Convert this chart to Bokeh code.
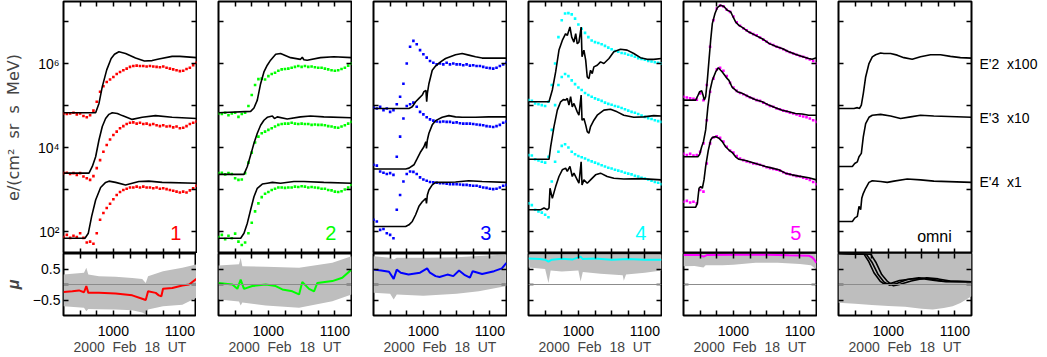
import numpy as np
from bokeh.plotting import figure
from bokeh.layouts import row, column
from bokeh.models import Range1d, FixedTicker, LinearAxis, LogAxis, Label, Span
from bokeh.embed import file_html
from bokeh.resources import INLINE

FONT = "Liberation Sans"
NB = "\u00a0"

# ---------------- ticks / labels ----------------
X_MAJOR = [60, 120]                      # minutes after 09:00 UT
X_MINOR = [30, 45, 75, 90, 105]
X_LABELS = {60: "1000", 120: "1100"}
Y_MAJOR = [1e2, 1e4, 1e6]
Y_MINOR = [1e3, 1e5, 1e7]
Y_LABELS = {100: "10²", 10000: "10⁴", 1000000: "10⁶"}
MU_MAJOR = [-0.5, 0.5]
MU_MINOR = [0.0]
MU_LABELS = {-0.5: "−0.5", 0.5: "0.5"}
CH_TICKS = [1500, 50000, 1000000]
CH_LABELS = {1500: "E'4" + NB * 2 + "x1", 50000: "E'3" + NB * 2 + "x10", 1000000: "E'2" + NB * 2 + "x100"}
X_TITLE = NB.join(["2000", "", "Feb", "", "18", "", "UT"])
Y_TITLE = NB.join(["e/(cm²", "", "sr", "", "s", "", "MeV)"])
TAGS = ["1", "2", "3", "4", "5", "omni"]
COLORS = ["#ff0000", "#00ff00", "#0000ff", "#00ffff", "#ff00ff", "#000000"]

# ---------------- measured intensities (log10 e/(cm2 sr s MeV)) ----------------
T_DATA = [15, 18, 21, 24, 27, 30, 33, 36, 39, 42, 45, 48, 51, 54, 57, 60, 63, 66, 69, 72, 75,
          78, 81, 84, 87, 90, 93, 96, 99, 102, 105, 108, 111, 114, 117, 120, 123, 126, 129, 132, 135]

P1_E2 = [4.81, 4.80, 4.81, 4.83, 4.79, 4.81, 4.75, 4.72, 4.77, 4.88, 5.09, 5.33, 5.46, 5.56, 5.62, 5.68, 5.75, 5.80, 5.84, 5.88,
         5.92, 5.94, 5.95, 5.94, 5.94, 5.93, 5.94, 5.93, 5.92, 5.91, 5.93, 5.90, 5.88, 5.86, 5.84, 5.82, 5.83, 5.87, 5.90, 5.96, 6.02]
P1_E3 = [3.39, 3.40, 3.37, 3.39, 3.35, 3.39, 3.31, 3.27, 3.23, 3.32, 3.51, 3.70, 3.90, 4.06, 4.19, 4.30, 4.38, 4.46, 4.51, 4.56,
         4.59, 4.60, 4.57, 4.59, 4.56, 4.57, 4.54, 4.56, 4.53, 4.51, 4.53, 4.50, 4.51, 4.48, 4.50, 4.46, 4.47, 4.51, 4.56, 4.59, 4.62]
P1_E4 = [1.87, 1.92, 1.85, 1.90, 1.87, 1.96, 1.85, 1.74, 1.76, 1.71, 1.96, 2.28, 2.44, 2.56, 2.66, 2.77, 2.87, 2.94, 2.99, 3.02,
         3.05, 3.05, 3.07, 3.05, 3.07, 3.05, 3.05, 3.03, 3.05, 3.02, 3.03, 3.01, 2.99, 2.97, 2.95, 2.93, 2.95, 2.93, 2.98, 3.03, 3.09]

P2_E2 = [4.81, 4.80, 4.83, 4.77, 4.81, 4.83, 4.73, 4.80, 4.83, 4.99, 5.25, 5.49, 5.63, 5.64, 5.62, 5.70, 5.75, 5.78, 5.83, 5.86,
         5.87, 5.88, 5.90, 5.92, 5.94, 5.92, 5.94, 5.92, 5.93, 5.91, 5.90, 5.90, 5.88, 5.86, 5.84, 5.83, 5.84, 5.87, 5.90, 5.95, 6.00]
P2_E3 = [3.39, 3.40, 3.36, 3.39, 3.37, 3.27, 3.23, 3.24, 3.39, 3.64, 3.88, 4.12, 4.26, 4.34, 4.38, 4.42, 4.46, 4.50, 4.54, 4.56,
         4.57, 4.57, 4.59, 4.57, 4.56, 4.57, 4.56, 4.56, 4.54, 4.55, 4.54, 4.54, 4.53, 4.51, 4.50, 4.48, 4.47, 4.50, 4.53, 4.57, 4.61]
P2_E4 = [1.87, 1.92, 1.82, 1.90, 1.84, 1.95, 1.76, 1.68, 1.74, 1.96, 2.21, 2.48, 2.67, 2.82, 2.90, 2.94, 2.99, 3.02, 3.05, 3.05,
         3.04, 3.05, 3.05, 3.07, 3.06, 3.08, 3.07, 3.05, 3.06, 3.05, 3.04, 3.02, 3.02, 2.99, 2.98, 2.95, 2.94, 2.96, 3.00, 3.05, 3.11]

P3_E2 = [4.95, 4.93, 4.97, 4.89, 4.93, 4.85, 4.89, 5.03, 5.21, 5.52, 6.00, 6.40, 6.54, 6.46, 6.32, 6.22, 6.14, 6.06, 6.02, 5.98,
         6.00, 5.98, 6.02, 5.98, 6.00, 5.98, 5.98, 5.96, 5.98, 5.95, 5.96, 5.94, 5.94, 5.92, 5.90, 5.89, 5.88, 5.90, 5.94, 5.98, 6.02]
P3_E3 = [3.59, 3.57, 3.43, 3.40, 3.37, 3.39, 3.35, 3.78, 4.26, 4.69, 4.99, 5.03, 5.07, 4.97, 4.85, 4.79, 4.72, 4.67, 4.64, 4.62,
         4.61, 4.62, 4.61, 4.61, 4.59, 4.60, 4.58, 4.57, 4.57, 4.57, 4.56, 4.55, 4.54, 4.53, 4.51, 4.50, 4.49, 4.51, 4.54, 4.59, 4.62]
P3_E4 = [2.28, 2.24, 2.04, 2.06, 1.96, 1.92, 1.84, 2.52, 2.87, 3.19, 3.37, 3.43, 3.42, 3.37, 3.29, 3.24, 3.21, 3.18, 3.17, 3.16,
         3.15, 3.15, 3.14, 3.13, 3.13, 3.13, 3.12, 3.11, 3.11, 3.10, 3.09, 3.09, 3.07, 3.05, 3.04, 3.02, 3.01, 3.02, 3.05, 3.09, 3.11]

P4_E2 = [5.13, 5.11, 5.05, 5.03, 5.01, 4.99, 5.09, 5.49, 6.00, 6.63, 7.03, 7.19, 7.20, 7.17, 7.07, 6.93, 6.83, 6.73, 6.63, 6.55,
         6.51, 6.49, 6.46, 6.42, 6.38, 6.34, 6.30, 6.28, 6.25, 6.24, 6.21, 6.19, 6.16, 6.13, 6.11, 6.09, 6.06, 6.05, 6.03, 6.02, 6.00]
P4_E3 = [3.82, 3.81, 3.72, 3.69, 3.66, 3.64, 3.78, 4.42, 5.01, 5.49, 5.68, 5.75, 5.70, 5.60, 5.51, 5.43, 5.37, 5.30, 5.25, 5.21,
         5.17, 5.14, 5.11, 5.07, 5.04, 5.02, 4.99, 4.97, 4.94, 4.91, 4.88, 4.85, 4.83, 4.80, 4.76, 4.73, 4.70, 4.68, 4.65, 4.63, 4.61]
P4_E4 = [2.67, 2.63, 2.52, 2.48, 2.45, 2.40, 2.34, 3.19, 3.66, 3.90, 4.04, 4.08, 4.00, 3.90, 3.84, 3.80, 3.77, 3.74, 3.70, 3.67,
         3.64, 3.61, 3.58, 3.55, 3.52, 3.50, 3.47, 3.45, 3.43, 3.40, 3.38, 3.36, 3.33, 3.31, 3.28, 3.26, 3.24, 3.21, 3.18, 3.16, 3.13]

P5_E2 = [5.21, 5.19, 5.17, 5.16, 5.14, 5.29, 5.13, 5.49, 6.40, 7.03, 7.31, 7.38, 7.36, 7.28, 7.23, 7.12, 6.98, 6.90, 6.84, 6.79,
         6.74, 6.70, 6.67, 6.62, 6.57, 6.52, 6.47, 6.44, 6.40, 6.37, 6.34, 6.30, 6.27, 6.24, 6.21, 6.18, 6.16, 6.13, 6.10, 6.06, 6.00]
P5_E3 = [3.85, 3.82, 3.85, 3.81, 3.82, 3.90, 4.10, 4.65, 5.33, 5.64, 5.86, 5.90, 5.83, 5.70, 5.54, 5.43, 5.35, 5.30, 5.27, 5.23,
         5.19, 5.16, 5.13, 5.11, 5.07, 5.03, 4.99, 4.97, 4.93, 4.91, 4.88, 4.86, 4.83, 4.81, 4.79, 4.76, 4.74, 4.72, 4.69, 4.65, 4.61]
P5_E4 = [2.71, 2.73, 2.69, 2.71, 2.67, 2.99, 2.95, 3.62, 4.10, 4.24, 4.27, 4.23, 4.14, 4.02, 3.93, 3.88, 3.80, 3.74, 3.70, 3.67,
         3.65, 3.62, 3.61, 3.59, 3.56, 3.53, 3.51, 3.49, 3.47, 3.45, 3.41, 3.38, 3.36, 3.34, 3.32, 3.31, 3.28, 3.26, 3.23, 3.18, 3.13]

# ---------------- model curves (time, log10 intensity) ----------------
M1_E2_T = [15, 44, 47, 50, 54, 58, 61, 65, 71, 80, 88, 95, 101, 113, 120, 135]
M1_E2 = [4.83, 4.83, 5.05, 5.45, 5.85, 6.12, 6.22, 6.28, 6.24, 6.13, 6.06, 6.07, 6.11, 6.17, 6.17, 6.14]
M1_E3_T = [15, 38, 41, 44, 47, 50, 53, 56, 59, 63.6, 68, 77, 86, 98, 113, 135]
M1_E3 = [3.39, 3.39, 3.55, 3.78, 4.18, 4.50, 4.69, 4.79, 4.83, 4.81, 4.76, 4.67, 4.72, 4.76, 4.72, 4.69]
M1_E4_T = [15, 34.4, 37.4, 40.4, 44, 48.5, 53, 56, 62, 71, 83, 92, 104, 135]
M1_E4 = [1.84, 1.84, 1.96, 2.36, 2.75, 3.05, 3.17, 3.20, 3.17, 3.11, 3.19, 3.20, 3.17, 3.15]

M2_E2_T = [15, 44, 47, 50, 53, 56, 59, 62, 66.6, 71, 80, 89, 90.6, 92, 95, 107, 119, 135]
M2_E2 = [4.83, 4.86, 4.94, 5.13, 5.52, 5.80, 5.96, 6.08, 6.22, 6.24, 6.14, 6.10, 6.15, 6.09, 6.08, 6.14, 6.16, 6.14]
M2_E3_T = [15, 38, 41, 44, 47, 50, 53, 56, 59, 63.6, 65.5, 68, 77, 89, 98, 110, 135]
M2_E3 = [3.36, 3.36, 3.55, 3.82, 4.10, 4.34, 4.53, 4.65, 4.72, 4.75, 4.69, 4.73, 4.68, 4.73, 4.75, 4.73, 4.71]
M2_E4_T = [15, 35, 38, 41, 44, 47, 50, 54.5, 59, 63.6, 71, 83, 92, 110, 135]
M2_E4 = [1.84, 1.84, 1.96, 2.20, 2.52, 2.83, 3.03, 3.13, 3.15, 3.17, 3.15, 3.19, 3.19, 3.17, 3.15]

M3_E2_T = [15, 47, 50, 53, 56, 59, 60.5, 62.3, 63, 63.6, 65, 68, 71, 75.5, 80, 89, 95, 101, 107, 113, 135]
M3_E2 = [4.93, 4.93, 4.97, 5.09, 5.17, 5.25, 5.33, 5.36, 5.09, 5.29, 5.52, 5.84, 5.94, 6.04, 6.12, 6.21, 6.24, 6.20, 6.16, 6.13, 6.13]
M3_E3_T = [15, 44, 47, 51.5, 54.5, 57.6, 60.5, 62.2, 62.8, 63.6, 65, 68, 71, 77, 83, 89, 95, 107, 119, 135]
M3_E3 = [3.49, 3.49, 3.51, 3.59, 3.74, 3.90, 4.02, 4.14, 3.98, 4.18, 4.34, 4.54, 4.64, 4.72, 4.76, 4.73, 4.72, 4.72, 4.73, 4.73]
M3_E4_T = [15, 44, 47, 50, 53, 56, 59, 62.2, 62.8, 63.6, 65, 68, 71, 77, 89, 101, 113, 135]
M3_E4 = [2.12, 2.12, 2.16, 2.24, 2.40, 2.60, 2.71, 2.79, 2.67, 2.87, 2.99, 3.11, 3.17, 3.17, 3.18, 3.21, 3.19, 3.17]

M4_E2_T = [15, 33.5, 36.5, 39.5, 42.5, 45.5, 48.5, 50, 52.4, 54, 56, 57.6, 59, 60.5, 62.5, 63.3, 65, 66.6, 68, 69.5,
           71, 72.5, 74, 77, 80, 83, 87.6, 92, 98, 104, 110, 116, 122, 128, 135]
M4_E2 = [5.09, 5.09, 5.37, 5.80, 6.32, 6.55, 6.71, 6.67, 6.87, 6.63, 6.51, 6.71, 6.47, 6.51, 6.87, 6.16, 6.32, 6.08, 5.68, 5.64,
         5.84, 5.76, 5.92, 5.96, 6.04, 6.00, 6.12, 6.28, 6.34, 6.32, 6.24, 6.14, 6.10, 6.10, 6.12]
M4_E3_T = [15, 33.5, 35, 38, 41, 44, 46.4, 48.5, 50, 51.5, 53, 54.5, 56, 59, 60.5, 62.5, 63.3, 65, 66.6, 68,
           69.5, 71, 74, 77, 83, 89, 95, 101, 110, 119, 128, 135]
M4_E3 = [3.72, 3.72, 4.02, 4.50, 4.89, 5.09, 5.14, 5.13, 5.17, 5.01, 5.21, 4.97, 5.05, 4.85, 4.77, 5.25, 4.65, 4.69, 4.54, 4.38,
         4.34, 4.50, 4.65, 4.77, 4.89, 4.91, 4.85, 4.77, 4.72, 4.73, 4.76, 4.75]
M4_E4_T = [15, 26, 29, 32, 33.5, 34.4, 36.5, 39.5, 42.5, 45.5, 48.5, 50, 52.4, 54.5, 56, 59, 60.5, 62.5, 63.3, 65,
           68, 71, 75.5, 80, 86, 92, 101, 116, 135]
M4_E4 = [2.52, 2.52, 2.56, 2.52, 2.56, 3.03, 2.79, 3.07, 3.31, 3.47, 3.51, 3.43, 3.55, 3.31, 3.39, 3.23, 3.15, 3.66, 3.11, 3.23,
         3.15, 3.23, 3.35, 3.39, 3.31, 3.27, 3.25, 3.26, 3.23]

M5_E2_T = [15, 26, 27.5, 29.6, 31.4, 32.6, 33.8, 35, 36.5, 38, 39.5, 41, 43.4, 45.5, 48.5, 51.5, 54.5, 57.6, 59, 62,
           65, 68, 74, 80, 86, 90.6, 92, 98, 104, 110, 116, 122, 128, 131, 135]
M5_E2 = [5.13, 5.13, 5.21, 5.33, 5.35, 5.25, 5.13, 5.21, 5.60, 6.08, 6.55, 6.95, 7.19, 7.33, 7.39, 7.36, 7.27, 7.23, 7.15, 6.99,
         6.91, 6.86, 6.75, 6.67, 6.59, 6.51, 6.48, 6.41, 6.36, 6.28, 6.22, 6.17, 6.12, 6.10, 6.14]
M5_E3_T = [15, 28, 29.6, 31.4, 33, 35, 37, 39, 41, 44, 46.4, 50, 54.5, 56, 59, 63.6, 68, 74, 80, 86,
           92, 98, 104, 110, 116, 122, 128, 135]
M5_E3 = [3.78, 3.78, 3.84, 4.02, 4.14, 4.42, 4.97, 5.37, 5.60, 5.80, 5.90, 5.80, 5.64, 5.60, 5.43, 5.33, 5.29, 5.21, 5.14, 5.09,
         5.01, 4.95, 4.89, 4.85, 4.81, 4.80, 4.77, 4.77]
M5_E4_T = [15, 26, 27.5, 29, 30.5, 32, 33.5, 35, 37.4, 39.5, 41, 44, 47, 50, 53, 56, 59, 62, 65, 71,
           80, 89, 95, 101, 107, 113, 119, 128, 135]
M5_E4 = [2.58, 2.58, 2.67, 3.03, 3.07, 3.03, 3.23, 3.55, 3.94, 4.18, 4.24, 4.26, 4.22, 4.14, 4.02, 3.94, 3.88, 3.78, 3.72, 3.69,
         3.62, 3.55, 3.51, 3.47, 3.39, 3.35, 3.32, 3.28, 3.23]

M6_E2_T = [15, 29, 32, 34, 35.6, 37.4, 39.5, 42.5, 45.5, 48.5, 53, 56, 62, 68, 74, 81.5, 89, 98, 107, 116, 125, 135]
M6_E2 = [4.93, 4.93, 4.95, 4.93, 5.01, 5.29, 5.68, 6.00, 6.16, 6.21, 6.25, 6.24, 6.24, 6.20, 6.14, 6.10, 6.16, 6.21, 6.21, 6.17, 6.14, 6.13]
M6_E3_T = [15, 27.5, 29.6, 32, 33.5, 35.6, 37.4, 39.5, 42.5, 45.5, 53, 62, 71, 80, 89, 101, 135]
M6_E3 = [3.55, 3.55, 3.62, 3.66, 3.78, 3.86, 4.26, 4.57, 4.72, 4.77, 4.79, 4.75, 4.69, 4.73, 4.77, 4.75, 4.72]
M6_E4_T = [15, 27.5, 29.6, 32, 33.5, 35, 36, 37.4, 39.5, 42.5, 45.5, 53, 59, 65, 77, 89, 101, 135]
M6_E4 = [2.24, 2.24, 2.32, 2.36, 2.60, 2.52, 2.79, 2.91, 3.03, 3.17, 3.21, 3.19, 3.17, 3.20, 3.25, 3.23, 3.20, 3.17]

# ---------------- pitch-angle cosine (mu) ----------------
MU1_T = [15, 23, 29, 33.5, 35.6, 37.4, 47, 62, 77, 86, 89.2, 91.3, 98.2, 101, 103.3, 104.8, 113.2, 122.2, 128.3, 135]
MU1 = [-0.24, -0.22, -0.19, -0.25, -0.05, -0.27, -0.27, -0.29, -0.35, -0.46, -0.50, -0.22, -0.27, -0.35, -0.38, -0.14, -0.11, -0.03, 0.00, 0.18]
B1_T = [15, 33.5, 35.6, 37.4, 47, 62, 77, 86, 89.2, 91.3, 104.8, 122.2, 135]
B1_HI = [0.32, 0.38, 0.54, 0.32, 0.27, 0.25, 0.21, 0.18, 0.05, 0.27, 0.43, 0.54, 0.65]
B1_LO = [-0.70, -0.75, -0.86, -0.79, -0.80, -0.81, -0.83, -0.90, -0.97, -0.81, -0.70, -0.65, -0.43]

MU2_T = [15, 27.5, 32, 35, 38, 45.5, 57.6, 66.6, 72.6, 81.6, 87.7, 90.6, 96.7, 101.2, 104.2, 117.7, 126.7, 135]
MU2 = [0.05, 0.00, -0.14, 0.16, -0.14, -0.05, 0.00, -0.05, -0.16, -0.22, -0.32, 0.08, -0.14, -0.22, 0.05, 0.11, 0.22, 0.48]
B2_T = [15, 33.5, 35, 36.5, 57.6, 87.7, 117.7, 135]
B2_HI = [0.61, 0.65, 0.86, 0.59, 0.57, 0.54, 0.70, 0.91]
B2_LO = [-0.48, -0.55, -0.68, -0.58, -0.68, -0.75, -0.54, -0.32]

MU3_T = [15, 22, 29, 33.2, 36, 39.6, 46.6, 57, 63.4, 65.9, 71, 74.6, 81.7, 87, 92.2, 97.5, 102, 104.5, 113, 123.8, 130.8, 135]
MU3 = [0.48, 0.45, 0.41, 0.18, 0.48, 0.38, 0.32, 0.38, 0.52, 0.38, 0.27, 0.24, 0.32, 0.27, 0.45, 0.30, 0.22, 0.43, 0.34, 0.43, 0.52, 0.70]
B3_T = [15, 30, 33.2, 36, 60, 90, 110, 135]
B3_HI = [0.91, 0.86, 0.81, 0.86, 0.86, 0.88, 0.92, 0.97]
B3_LO = [-0.27, -0.30, -0.48, -0.32, -0.36, -0.30, -0.22, -0.05]

MU4_T = [15, 25, 30, 33, 36, 45, 55, 62, 64, 75, 90, 105, 120, 135]
MU4 = [0.84, 0.82, 0.80, 0.74, 0.80, 0.83, 0.81, 0.90, 0.82, 0.84, 0.80, 0.82, 0.80, 0.80]
B4_T = [15, 30, 33, 35, 45, 60, 62, 64, 80, 100, 101, 103, 120, 135]
B4_HI = [0.97, 0.97, 0.97, 0.97, 0.97, 0.97, 0.97, 0.97, 0.97, 0.97, 0.97, 0.97, 0.97, 0.97]
B4_LO = [0.55, 0.50, 0.05, 0.45, 0.42, 0.45, 0.10, 0.40, 0.35, 0.30, 0.12, 0.32, 0.38, 0.45]

MU5_T = [15, 30, 33, 36, 60, 90, 110, 128, 131, 133, 135]
MU5 = [0.95, 0.95, 0.90, 0.95, 0.96, 0.96, 0.94, 0.93, 0.88, 0.80, 0.70]
B5_T = [15, 25, 33, 35, 50, 60, 80, 100, 120, 130, 135]
B5_HI = [0.99, 0.99, 0.99, 0.99, 0.99, 0.99, 0.99, 0.99, 0.99, 0.99, 0.99]
B5_LO = [0.59, 0.60, 0.55, 0.62, 0.62, 0.64, 0.70, 0.70, 0.66, 0.62, 0.48]

MU6A_T = [15, 38, 42, 47, 52.5, 56, 61, 70, 80.6, 91, 101.7, 112, 135]
MU6A = [1.00, 0.98, 0.76, 0.38, 0.11, 0.02, 0.02, 0.13, 0.18, 0.19, 0.13, 0.09, 0.09]
MU6B_T = [15, 40, 45.5, 50.8, 56, 61, 66.3, 77, 87.5, 98, 108.7, 135]
MU6B = [1.00, 0.98, 0.70, 0.32, 0.08, -0.02, 0.02, 0.16, 0.22, 0.18, 0.11, 0.09]
MU6C_T = [15, 44, 49, 54, 59.4, 64.6, 70, 80.6, 94.6, 105, 115.8, 135]
MU6C = [1.00, 0.98, 0.70, 0.32, 0.09, -0.04, 0.00, 0.11, 0.22, 0.18, 0.11, 0.09]
B6_T = [15, 30, 45, 60, 75, 90, 100, 110, 118, 125, 135]
B6_HI = [1.0, 1.0, 1.0, 1.0, 1.0, 1.0, 1.0, 1.0, 1.0, 1.0, 1.0]
B6_LO = [-0.59, -0.62, -0.66, -0.69, -0.72, -0.78, -0.81, -0.76, -0.70, -0.60, -0.38]

PANELS = [
    dict(dots=[P1_E2, P1_E3, P1_E4], model=[(M1_E2_T, M1_E2), (M1_E3_T, M1_E3), (M1_E4_T, M1_E4)],
         mu=[(MU1_T, MU1)], band=(B1_T, B1_LO, B1_HI)),
    dict(dots=[P2_E2, P2_E3, P2_E4], model=[(M2_E2_T, M2_E2), (M2_E3_T, M2_E3), (M2_E4_T, M2_E4)],
         mu=[(MU2_T, MU2)], band=(B2_T, B2_LO, B2_HI)),
    dict(dots=[P3_E2, P3_E3, P3_E4], model=[(M3_E2_T, M3_E2), (M3_E3_T, M3_E3), (M3_E4_T, M3_E4)],
         mu=[(MU3_T, MU3)], band=(B3_T, B3_LO, B3_HI)),
    dict(dots=[P4_E2, P4_E3, P4_E4], model=[(M4_E2_T, M4_E2), (M4_E3_T, M4_E3), (M4_E4_T, M4_E4)],
         mu=[(MU4_T, MU4)], band=(B4_T, B4_LO, B4_HI)),
    dict(dots=[P5_E2, P5_E3, P5_E4], model=[(M5_E2_T, M5_E2), (M5_E3_T, M5_E3), (M5_E4_T, M5_E4)],
         mu=[(MU5_T, MU5)], band=(B5_T, B5_LO, B5_HI)),
    dict(dots=[], model=[(M6_E2_T, M6_E2), (M6_E3_T, M6_E3), (M6_E4_T, M6_E4)],
         mu=[(MU6A_T, MU6A), (MU6B_T, MU6B), (MU6C_T, MU6C)], band=(B6_T, B6_LO, B6_HI)),
]

# ---------------- layout constants ----------------
FW = 133
TOP_H = 252
MU_H = 62


def style_axis(ax, major, minor, labels=None, size="14px"):
    if labels is None:
        ax.ticker = FixedTicker(ticks=[], minor_ticks=list(major) + list(minor))
        ax.major_label_standoff = 0
    else:
        ax.ticker = FixedTicker(ticks=list(major), minor_ticks=list(minor))
        ax.major_label_overrides = labels
    ax.major_tick_in = 5
    ax.major_tick_out = 0
    ax.minor_tick_in = 5
    ax.minor_tick_out = 0
    ax.major_tick_line_width = 1.5
    ax.minor_tick_line_width = 1.5
    ax.major_tick_line_color = "black"
    ax.minor_tick_line_color = "black"
    ax.axis_line_color = None
    ax.major_label_text_font = FONT
    ax.major_label_text_font_size = size
    ax.major_label_text_color = "black"


def make_fig(i, top):
    left = 59 if i == 0 else 21
    right = 66 if i == 5 else 1
    p = figure(frame_width=FW, frame_height=TOP_H if top else MU_H,
               x_range=Range1d(15, 135),
               y_range=Range1d(30, 3e7) if top else Range1d(-1, 1),
               y_axis_type="log" if top else "linear",
               output_backend="svg", toolbar_location=None,
               min_border_left=left, min_border_right=right,
               min_border_top=1 if top else 0, min_border_bottom=0 if top else 42,
               background_fill_color="white", border_fill_color="white",
               outline_line_color="black", outline_line_width=2)
    p.grid.visible = False
    yax = p.yaxis[0]
    xax = p.xaxis[0]
    if top:
        style_axis(yax, Y_MAJOR, Y_MINOR, Y_LABELS if i == 0 else None)
        style_axis(xax, X_MAJOR, X_MINOR, None)
        rax = LogAxis()
        style_axis(rax, Y_MAJOR, Y_MINOR, None)
    else:
        style_axis(yax, MU_MAJOR, MU_MINOR, MU_LABELS if i == 0 else None)
        style_axis(xax, X_MAJOR, X_MINOR, X_LABELS)
        xax.major_label_standoff = 10
        xax.axis_label = X_TITLE
        xax.axis_label_standoff = 0
        xax.axis_label_text_font = FONT
        xax.axis_label_text_font_size = "14px"
        xax.axis_label_text_font_style = "normal"
        rax = LinearAxis()
        style_axis(rax, MU_MAJOR, MU_MINOR, None)
    p.add_layout(rax, "right")
    aax = LinearAxis()
    style_axis(aax, X_MAJOR, X_MINOR, None)
    p.add_layout(aax, "above")
    if i == 0:
        yax.major_label_standoff = 4 if top else 3
        yax.axis_label = Y_TITLE if top else "μ"
        yax.axis_label_standoff = 12 if top else 8
        yax.axis_label_text_font = "DejaVu Sans" if top else FONT
        yax.axis_label_text_font_size = "16px"
        yax.axis_label_text_font_style = "normal" if top else "bold italic"
    return p


cols = []
for i, pan in enumerate(PANELS):
    color = COLORS[i]
    top = make_fig(i, True)
    for vals in pan["dots"]:
        top.scatter(T_DATA, 10 ** np.array(vals), marker="square", size=2.6,
                    fill_color=color, line_color=None)
    for (tt, vv) in pan["model"]:
        top.line(tt, 10 ** np.array(vv), line_color="black", line_width=1.6)
    if i < 5:
        top.add_layout(Label(x=116.3, y=10 ** 1.97, text=TAGS[i], text_color=color,
                             text_font=FONT, text_font_size="20px",
                             text_align="center", text_baseline="middle"))
    else:
        top.add_layout(Label(x=101.6, y=10 ** 1.87, text=TAGS[i], text_color="black",
                             text_font=FONT, text_font_size="16px",
                             text_align="center", text_baseline="middle"))
        chax = LogAxis()
        chax.ticker = FixedTicker(ticks=CH_TICKS)
        chax.major_label_overrides = CH_LABELS
        chax.major_tick_in = 0
        chax.major_tick_out = 0
        chax.minor_tick_in = 0
        chax.minor_tick_out = 0
        chax.axis_line_color = None
        chax.major_label_standoff = 8
        chax.major_label_text_font = FONT
        chax.major_label_text_font_size = "14px"
        chax.major_label_text_color = "black"
        top.add_layout(chax, "right")

    mu = make_fig(i, False)
    bt, blo, bhi = pan["band"]
    mu.varea(x=bt, y1=blo, y2=bhi, fill_color="#bebebe")
    mu.add_layout(Span(location=0, dimension="width", line_color="#8c8c8c", line_width=1))
    for (tt, vv) in pan["mu"]:
        mu.line(tt, vv, line_color=color, line_width=2 if i < 5 else 1.6)
    cols.append(column(top, mu))

layout = row(*cols)
open("out.html", "w").write(file_html(layout, INLINE))
